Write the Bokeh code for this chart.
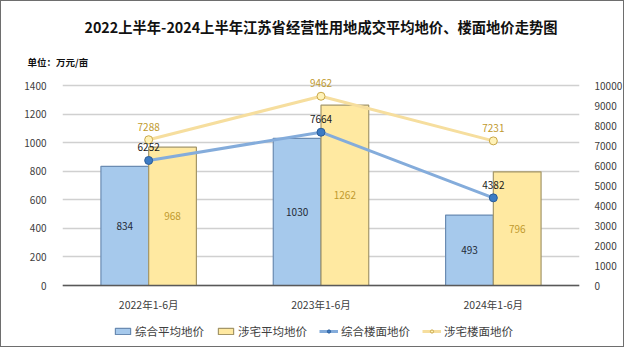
from bokeh.plotting import figure
from bokeh.models import (FactorRange, Range1d, LinearAxis, FixedTicker, ColumnDataSource,
                          Title, Legend, LegendItem)
from bokeh.transform import dodge
from bokeh.embed import file_html
from bokeh.resources import INLINE
from bokeh.core.properties import value

categories = ["2022年1-6月", "2023年1-6月", "2024年1-6月"]
avg_all = [834, 1030, 493]      # 综合平均地价
avg_res = [968, 1262, 796]      # 涉宅平均地价
floor_all = [6252, 7664, 4382]  # 综合楼面地价
floor_res = [7288, 9462, 7231]  # 涉宅楼面地价
left_ticks = [0, 200, 400, 600, 800, 1000, 1200, 1400]
right_ticks = [0, 1000, 2000, 3000, 4000, 5000, 6000, 7000, 8000, 9000, 10000]

title_text = "2022上半年-2024上半年江苏省经营性用地成交平均地价、楼面地价走势图"
unit_text = "单位：万元/亩"

FONT = "Noto Sans CJK SC"
# the frame runs past the axis ticks: head-room above (value label) and room below (category labels + legend)
TOP_F = 1.055
BOT_F = -0.305

src = ColumnDataSource(dict(
    cat=categories,
    avg_all=avg_all, avg_res=avg_res,
    floor_all=floor_all, floor_res=floor_res,
    half_all=[v / 2 for v in avg_all], half_res=[v / 2 for v in avg_res],
    lab_all=[str(v) for v in avg_all], lab_res=[str(v) for v in avg_res],
    lab_fall=[str(v) for v in floor_all], lab_fres=[str(v) for v in floor_res],
))

p = figure(width=624, height=347,
           x_range=FactorRange(factors=categories, range_padding=0),
           y_range=Range1d(left_ticks[-1] * BOT_F, left_ticks[-1] * TOP_F),
           output_backend="svg", toolbar_location=None,
           min_border_left=61, min_border_right=45, min_border_top=73, min_border_bottom=2)
p.extra_y_ranges = {"right": Range1d(right_ticks[-1] * BOT_F, right_ticks[-1] * TOP_F)}
p.outline_line_color = None
p.background_fill_color = "white"
p.border_fill_color = "white"
p.styles = {"border": "1px solid #6e6e6e"}

BW = 0.277
r1 = p.vbar(x=dodge('cat', -BW / 2, range=p.x_range), top='avg_all', width=BW, source=src,
            fill_color="#A6C9EC", line_color="#6A8BB2", line_width=1.2)
r2 = p.vbar(x=dodge('cat', BW / 2, range=p.x_range), top='avg_res', width=BW, source=src,
            fill_color="#FFE9A1", line_color="#A49668", line_width=1.2)

r3 = p.line('cat', 'floor_all', source=src, y_range_name="right", line_color="#84ACDB", line_width=3)
r3m = p.scatter('cat', 'floor_all', source=src, y_range_name="right", size=8,
                fill_color="#3C7BC4", line_color="#2B5D99", line_width=1)
r4 = p.line('cat', 'floor_res', source=src, y_range_name="right", line_color="#F6DE9E", line_width=3)
r4m = p.scatter('cat', 'floor_res', source=src, y_range_name="right", size=8,
                fill_color="#FFF2B8", line_color="#C9A84A", line_width=1)

# bar value labels
p.text(x=dodge('cat', -BW / 2, range=p.x_range), y='half_all', text='lab_all', source=src,
       text_align='center', text_baseline='middle', text_font=value(FONT),
       text_font_size='10px', text_color="#1F2A36")
p.text(x=dodge('cat', BW / 2, range=p.x_range), y='half_res', text='lab_res', source=src,
       text_align='center', text_baseline='middle', text_font=value(FONT),
       text_font_size='10px', text_color="#BF9A2E")
# line value labels
p.text(x='cat', y='floor_all', text='lab_fall', source=src, y_range_name="right", y_offset=-13,
       text_align='center', text_baseline='middle', text_font=value(FONT),
       text_font_size='10px', text_color="#1A1A1A")
p.text(x='cat', y='floor_res', text='lab_fres', source=src, y_range_name="right", y_offset=-13,
       text_align='center', text_baseline='middle', text_font=value(FONT),
       text_font_size='10px', text_color="#BF9A2E")

# axes
p.yaxis.ticker = FixedTicker(ticks=left_ticks)
p.yaxis.axis_line_color = None
p.yaxis.major_tick_line_color = None
p.yaxis.minor_tick_line_color = None
p.yaxis.major_label_standoff = 10
p.yaxis.major_label_text_font = FONT
p.yaxis.major_label_text_font_size = "10px"
p.yaxis.major_label_text_color = "#404040"

ry = LinearAxis(y_range_name="right", ticker=FixedTicker(ticks=right_ticks))
ry.axis_line_color = None
ry.major_tick_line_color = None
ry.minor_tick_line_color = None
ry.major_label_standoff = 9
ry.major_label_text_font = FONT
ry.major_label_text_font_size = "10px"
ry.major_label_text_color = "#404040"
p.add_layout(ry, "right")

p.xaxis.fixed_location = 0
p.xaxis.axis_line_color = "#595959"
p.xaxis.axis_line_width = 1.5
p.xaxis.major_tick_line_color = None
p.xaxis.major_label_standoff = 5
p.xaxis.major_label_text_font = FONT
p.xaxis.major_label_text_font_size = "10.5px"
p.xaxis.major_label_text_color = "#404040"

p.xgrid.grid_line_color = None
p.ygrid.grid_line_color = "#D0D0D0"
p.ygrid.grid_line_width = 1.3

# titles (first added sits nearest the plot); a blank title acts as a spacer
p.add_layout(Title(text=unit_text, align='left', offset=-35, standoff=11, text_font=FONT,
                   text_font_size='9.5px', text_font_style='bold', text_color="#111111"), "above")
p.add_layout(Title(text=" ", align='left', standoff=0, text_font=FONT,
                   text_font_size='6px'), "above")
p.add_layout(Title(text=title_text, align='center', standoff=0, text_font=FONT,
                   text_font_size='14.3px', text_font_style='bold', text_color="#111111"), "above")

legend = Legend(items=[
    LegendItem(label="综合平均地价", renderers=[r1]),
    LegendItem(label="涉宅平均地价", renderers=[r2]),
    LegendItem(label="综合楼面地价", renderers=[r3, r3m]),
    LegendItem(label="涉宅楼面地价", renderers=[r4, r4m]),
], orientation="horizontal", location=(51, 7))
legend.padding = 0
legend.margin = 0
legend.spacing = 12
legend.glyph_width = 19
legend.glyph_height = 8
legend.label_standoff = 3
legend.label_height = 16
legend.label_text_font = FONT
legend.label_text_font_size = "11.5px"
legend.label_text_color = "#404040"
legend.border_line_color = None
legend.background_fill_alpha = 0
p.add_layout(legend, "center")

open("out.html", "w").write(file_html(p, INLINE))
